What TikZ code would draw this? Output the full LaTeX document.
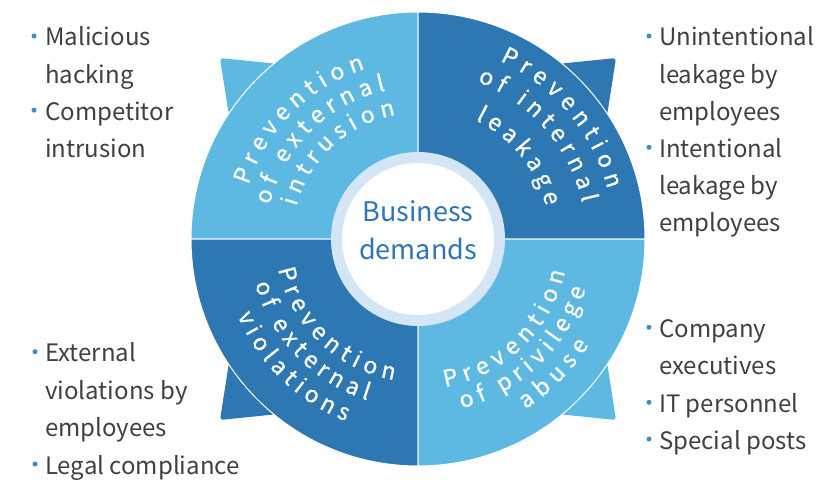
\documentclass[tikz,border=0pt]{standalone}
\usepackage{fontspec}
\setmainfont{Noto Sans CJK SC}
\newfontfamily\arcfam[FakeBold=0.7]{Noto Sans CJK SC}
\usetikzlibrary{decorations.text}
\definecolor{lightq}{HTML}{5DB8E2}
\definecolor{darkq}{HTML}{2D77B2}
\definecolor{ringc}{HTML}{D4E6F5}
\definecolor{ctext}{HTML}{2E75B6}
\definecolor{btext}{HTML}{404040}
\definecolor{bdot}{HTML}{3A8CCB}
\newcommand\arcfont{\arcfam\fontsize{23}{24}\selectfont}
\newcommand\bulfont{\fontsize{24}{30}\selectfont}
\newcommand\cenfont{\fontsize{27}{32}\selectfont}
\newcommand\arcline[4]{%
  \path[decorate,decoration={text along path,text align={fit to path},text color=white,text={|\arcfont|#4}}]
    ([shift={(#2:#1)}]C) arc[start angle=#2,end angle=#3,radius=#1];}
\begin{document}
\begin{tikzpicture}[x=1pt,y=1pt,
  btxt/.style={font=\bulfont,text=btext,anchor=base west,inner sep=0pt},
  bdotst/.style={circle,fill=bdot,inner sep=0pt,minimum size=5pt},
  quad/.style={draw=white,line width=1pt},
  tab/.style={rounded corners=3pt}]
\useasboundingbox (0,0) rectangle (832,480);
\coordinate (C) at (418,241);
% tabs
\begin{scope}[shift={(418,241)}]
  \fill[lightq,tab] (-198,181) -- (-120,173) -- (-186,104) -- cycle;
  \fill[darkq,tab] (198,181) -- (120,173) -- (186,104) -- cycle;
  \fill[darkq,tab] (-198,-181) -- (-120,-173) -- (-186,-104) -- cycle;
  \fill[lightq,tab] (198,-181) -- (120,-173) -- (186,-104) -- cycle;
\end{scope}
% quadrants
\filldraw[fill=lightq,quad] (C) -- ++(180:227) arc[start angle=180,end angle=90,radius=227] -- cycle;
\filldraw[fill=darkq,quad] (C) -- ++(90:227) arc[start angle=90,end angle=0,radius=227] -- cycle;
\filldraw[fill=darkq,quad] (C) -- ++(180:227) arc[start angle=180,end angle=270,radius=227] -- cycle;
\filldraw[fill=lightq,quad] (C) -- ++(270:227) arc[start angle=270,end angle=360,radius=227] -- cycle;
% center
\fill[ringc] (C) circle (87);
\fill[white] (C) circle (76);
\node[font=\cenfont,text=ctext,anchor=base,inner sep=0pt] (c1) at (418,258.3) {Business};
\node[font=\cenfont,text=ctext,anchor=base,inner sep=0pt] (c2) at (418,221) {demands};
% curved texts
\arcline{178}{162.3}{107.3}{Prevention}
\arcline{152}{167}{102.3}{of external}
\arcline{126}{165}{100.2}{intrusion}
\arcline{196}{65.3}{14.8}{Prevention}
\arcline{168}{69.3}{12.5}{of internal}
\arcline{132}{64.2}{14.4}{leakage}
\arcline{143}{192.2}{260.3}{Prevention}
\arcline{169}{195.4}{252.5}{of external}
\arcline{196}{203}{248.4}{violations}
\arcline{150.5}{280.4}{347.4}{Prevention}
\arcline{175}{284.5}{343.4}{of privilege}
\arcline{201}{302.2}{328.3}{abuse}
% bullets top-left
\node[bdotst] (d1) at (34,444) {};
\node[btxt] (t1) at (45,434) {Malicious};
\node[btxt] (t2) at (45,396.9) {hacking};
\node[bdotst] (d2) at (34,369.8) {};
\node[btxt] (t3) at (45,359.8) {Competitor};
\node[btxt] (t4) at (45,322.7) {intrusion};
% top-right
\node[bdotst] (d3) at (649,444) {};
\node[btxt] (t5) at (659,434) {Unintentional};
\node[btxt] (t6) at (659,396.9) {leakage by};
\node[btxt] (t7) at (659,359.8) {employees};
\node[bdotst] (d4) at (649,332.7) {};
\node[btxt] (t8) at (659,322.7) {Intentional};
\node[btxt] (t9) at (659,285.6) {leakage by};
\node[btxt] (t10) at (659,248.5) {employees};
% bottom-left
\node[bdotst] (d5) at (35,128.3) {};
\node[btxt] (t11) at (45,118.3) {External};
\node[btxt] (t12) at (45,80.7) {violations by};
\node[btxt] (t13) at (45,43.3) {employees};
\node[bdotst] (d6) at (35,16) {};
\node[btxt] (t14) at (45,6) {Legal compliance};
% bottom-right
\node[bdotst] (d7) at (649,152.7) {};
\node[btxt] (t15) at (659,142.7) {Company};
\node[btxt] (t16) at (659,106) {executives};
\node[bdotst] (d8) at (649,77.7) {};
\node[btxt] (t17) at (659,67.7) {IT personnel};
\node[bdotst] (d9) at (649,41) {};
\node[btxt] (t18) at (659,31) {Special posts};
\end{tikzpicture}
\end{document}
